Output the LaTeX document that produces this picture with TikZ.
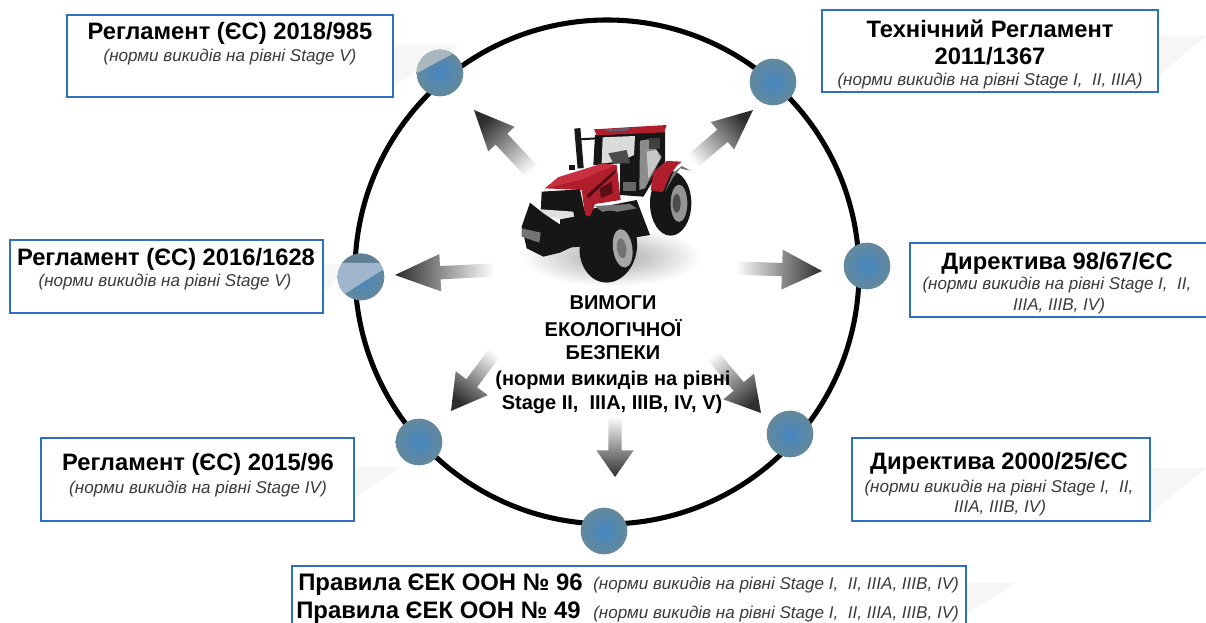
\documentclass[tikz,border=0pt]{standalone}
\usepackage{fontspec}
\setmainfont{Liberation Sans}
\usetikzlibrary{calc,fit}
\definecolor{boxblue}{HTML}{2F70BE}
\definecolor{dotin}{HTML}{4586C2}
\definecolor{dotout}{HTML}{64899B}
\definecolor{faint}{HTML}{F6F6F6}
\definecolor{subgray}{HTML}{3A3A3A}
\definecolor{tred}{HTML}{B01E2C}
\definecolor{tlight}{HTML}{C9303F}
\definecolor{tdark}{HTML}{161616}
\definecolor{dotwedge}{HTML}{A9B7BE}
\definecolor{dotband}{HTML}{5F8096}
\definecolor{dotlight}{HTML}{9FB6CC}
\definecolor{roofblue}{HTML}{5A5F78}
\tikzset{
  infobox/.style={draw=boxblue,line width=1.9pt,fill=white,inner sep=0pt},
  ttl/.style={font=\bfseries\fontsize{17.8}{20}\selectfont,text=black,inner sep=0pt},
  bigttl/.style={font=\bfseries\fontsize{17.9}{20}\selectfont,text=black,inner sep=0pt,anchor=base west},
  subt/.style={font=\itshape\fontsize{12.8}{14}\selectfont,text=subgray,inner sep=0pt},
  dotnode/.style={circle,minimum size=35pt,inner sep=0pt,inner color=dotin,outer color=dotout},
  centertxt/.style={font=\bfseries\fontsize{15}{17}\selectfont,text=black,inner sep=0pt},
  wedge/.style={fill=faint,draw=none},
}
% name, tip, tail, canvas direction, head length, head half width, shaft half width
\newcommand{\garrow}[7]{%
  \coordinate (#1tip) at (#2);
  \coordinate (#1tail) at (#3);
  \coordinate (#1b) at ($(#1tip)!#5pt!(#1tail)$);
  \path[shade,shading=axis,bottom color=white,top color=black!82,shading angle=#4-90]
    (#1tip) -- ($(#1b)!#6pt!90:(#1tip)$) -- ($(#1b)!#7pt!90:(#1tip)$)
    -- ($(#1tail)!#7pt!90:(#1tip)$) -- ($(#1tail)!#7pt!-90:(#1tip)$)
    -- ($(#1b)!#7pt!-90:(#1tip)$) -- ($(#1b)!#6pt!-90:(#1tip)$) -- cycle;
}
\begin{document}
\begin{tikzpicture}[x=0.75pt,y=-0.75pt]
\useasboundingbox (0,0) rectangle (1206,623);
\clip (0,0) rectangle (1206,623);
\fill[white] (0,0) rectangle (1206,623);
% faint wedges
\fill[wedge] (393,45) -- (458,45) -- (393,86) -- cycle;
\fill[wedge] (1158,36) -- (1206,36) -- (1158,76) -- cycle;
\fill[wedge] (1150,468) -- (1206,468) -- (1150,514) -- cycle;
\fill[wedge] (966,583) -- (1016,583) -- (966,614) -- cycle;
\fill[wedge] (354,467) -- (402,467) -- (354,498) -- cycle;
\fill[wedge] (323,264) -- (346,264) -- (323,296) -- cycle;
% ring
\node[circle,draw=black,line width=3.8pt,minimum size=378pt,inner sep=0pt] (ring) at (607,272) {};
% dots
\node[dotnode] (dNW) at (440,73) {};
\node[dotnode] (dNE) at (773,82) {};
\node[dotnode] (dE) at (867,266) {};
\node[dotnode] (dSE) at (790,434) {};
\node[dotnode] (dS) at (604,531) {};
\node[dotnode] (dSW) at (419,442) {};
\node[dotnode] (dW) at (361,277) {};
\begin{scope}
  \clip (dNW.center) circle[radius=23.5];
  \fill[dotwedge] (410,77) -- (456,52) -- (456,45) -- (410,45) -- cycle;
\end{scope}
\begin{scope}
  \clip (dW.center) circle[radius=23.5];
  \fill[dotband] (335,250) rectangle (390,263);
  \fill[dotlight] (335,263) -- (390,263) -- (390,265) -- (340,297) -- (335,297) -- cycle;
\end{scope}
% arrows
\garrow{aNW}{474,110}{536,176}{133}{30}{13.5}{6}
\garrow{aNE}{753,110}{688,165}{40}{30}{13.5}{6}
\garrow{aE}{822,271}{735,268}{-2}{30}{15}{5}
\garrow{aW}{395,275}{495,270}{177}{34}{14}{5}
\garrow{aSW}{451,411}{498,348}{-127}{26}{15}{5}
\garrow{aSE}{761,413}{708,350}{-50}{26}{15}{5}
\garrow{aS}{615,477}{615,416}{-90}{20}{14}{5}
% tractor, in units of a 3x enlargement around (480,100)
\begin{scope}[shift={(480,100)},x=0.25pt,y=-0.25pt]
  \path[shade,inner color=black!35,outer color=white] (395,470) ellipse[x radius=270,y radius=90];
  % rear wheel
  \fill[tdark] (572,310) ellipse[x radius=62,y radius=97];
  \fill[black!42] (597,310) ellipse[x radius=25,y radius=56];
  \fill[black!70] (590,310) ellipse[x radius=12,y radius=28];
  % chassis
  \fill[tdark] (240,345) -- (470,300) -- (510,405) -- (300,440) -- (240,445) -- cycle;
  % cab frame
  \fill[tdark] (345,105) -- (555,95) -- (555,185) -- (490,290) -- (420,285) -- (420,190) -- (340,195) -- cycle;
  \fill[black!14] (368,112) -- (465,108) -- (462,165) -- (420,185) -- (365,190) -- cycle;
  \fill[black!70] (385,160) -- (440,150) -- (450,190) -- (400,190) -- cycle;
  \fill[black!45] (480,122) -- (505,118) -- (545,170) -- (495,265) -- (478,270) -- cycle;
  \fill[black!22] (500,155) -- (530,150) -- (542,175) -- (505,235) -- cycle;
  \fill[black!75] (508,115) rectangle (540,148);
  \fill[black!60] (428,245) rectangle (468,272);
  % roof
  \fill[tred] (342,88) -- (560,75) -- (553,97) -- (350,106) -- cycle;
  \fill[roofblue] (375,88) -- (450,84) -- (440,92) -- (385,94) -- cycle;
  % exhaust
  \draw[tdark,line width=4.6pt] (292,85) -- (302,205);
  \draw[tdark,line width=1.5pt] (300,118) -- (350,115);
  \fill[tdark] (268,195) rectangle (285,210);
  % rear fender
  \fill[black!55] (555,275) -- (578,220) -- (605,198) -- (632,212) -- (600,205) -- (578,235) -- cycle;
  \fill[tred] (512,270) -- (520,215) -- (560,183) -- (605,185) -- (590,198) -- (570,225) -- (548,277) -- cycle;
  % hood
  \fill[tred] (195,265) -- (235,232) -- (370,190) -- (410,195) -- (422,300) -- (345,312) -- (330,350) -- (315,345) -- (305,270) -- cycle;
  \fill[tlight] (195,265) -- (235,232) -- (370,190) -- (400,198) -- (300,240) -- cycle;
  \fill[black!55!tred] (320,285) -- (405,210) -- (408,216) -- (325,295) -- cycle;
  \fill[black!50!tred] (360,265) -- (395,245) -- (398,280) -- (362,295) -- cycle;
  % grille and lamps
  \fill[tdark] (185,275) -- (300,268) -- (318,355) -- (270,362) -- (182,340) -- cycle;
  \fill[black!12] (183,328) -- (280,335) -- (282,350) -- (240,358) -- (183,345) -- cycle;
  % step
  \fill[black!55] (345,318) -- (450,312) -- (470,325) -- (375,342) -- cycle;
  % front left wheel and weights
  \fill[tdark] (125,380) -- (150,308) -- (190,340) -- (250,380) -- (278,440) -- (240,458) -- (190,470) -- (140,445) -- cycle;
  \fill[black!55] (125,385) -- (182,398) -- (178,428) -- (125,410) -- cycle;
  % front main wheel
  \fill[tdark,rotate around={-8:(385,440)}] (385,440) ellipse[x radius=86,y radius=108];
  \fill[black!35,rotate around={8:(428,445)}] (428,445) ellipse[x radius=29,y radius=58];
  \fill[black!55,rotate around={8:(425,445)}] (425,445) ellipse[x radius=14,y radius=30];
\end{scope}
% centre text
\node[centertxt] (c1) at (613,303) {ВИМОГИ};
\node[centertxt] (c2) at (613,328) {ЕКОЛОГІЧНОЇ};
\node[centertxt] (c3) at (613,353) {БЕЗПЕКИ};
\node[centertxt] (c4) at (613,380) {(норми викидів на рівні};
\node[centertxt] (c5) at (612,404) {Stage II,~ IIIA, IIIB, IV, V)};
% boxes
\node[infobox,fit={(67,15) (393,97)}] (b1) {};
\node[ttl] (b1t) at (230,33) {Регламент (ЄС) 2018/985};
\node[subt] (b1s) at (230,57) {(норми викидів на рівні Stage V)};

\node[infobox,fit={(822,10) (1158,92)}] (b2) {};
\node[ttl] (b2t) at (990,29) {Технічний Регламент};
\node[ttl] (b2u) at (990,56) {2011/1367};
\node[subt] (b2s) at (990,81) {(норми викидів на рівні Stage I,~ II, IIIA)};

\node[infobox,fit={(10,240) (323,313)}] (b3) {};
\node[ttl] (b3t) at (166,259) {Регламент (ЄС) 2016/1628};
\node[subt] (b3s) at (165,282) {(норми викидів на рівні Stage V)};

\node[infobox,fit={(910,243) (1208,317)}] (b4) {};
\node[ttl] (b4t) at (1057,263) {Директива 98/67/ЄС};
\node[subt] (b4s) at (1057,285) {(норми викидів на рівні Stage I,~ II,};
\node[subt] (b4u) at (1059,306) {IIIA, IIIB, IV)};

\node[infobox,fit={(852,438) (1150,521)}] (b5) {};
\node[ttl] (b5t) at (999,463) {Директива 2000/25/ЄС};
\node[subt] (b5s) at (999,488) {(норми викидів на рівні Stage I,~ II,};
\node[subt] (b5u) at (1000,508) {IIIA, IIIB, IV)};

\node[infobox,fit={(41,438) (354,521)}] (b6) {};
\node[ttl] (b6t) at (198,464) {Регламент (ЄС) 2015/96};
\node[subt] (b6s) at (198,489) {(норми викидів на рівні Stage IV)};

\node[infobox,fit={(292,566) (966,632)}] (b7) {};
\node[bigttl] (b7a) at (298,590) {Правила ЄЕК ООН № 96};
\node[subt,anchor=base west] (b7b) at (593,589) {(норми викидів на рівні Stage I,~ II, IIIA, IIIB, IV)};
\node[bigttl] (b7c) at (296,618) {Правила ЄЕК ООН № 49};
\node[subt,anchor=base west] (b7d) at (593,618) {(норми викидів на рівні Stage I,~ II, IIIA, IIIB, IV)};
\end{tikzpicture}
\end{document}
